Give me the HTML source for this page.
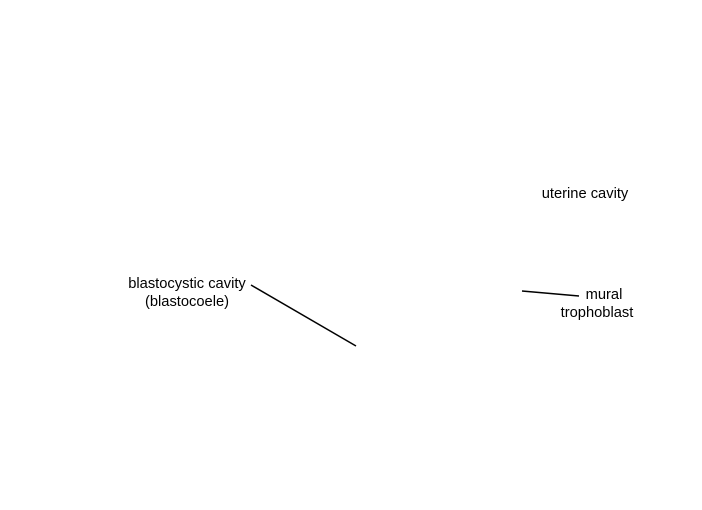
<!DOCTYPE html>
<html><head><style>
body{margin:0;width:702px;height:510px;background:#fff;position:relative;overflow:hidden;font-family:"Liberation Sans",Arial,sans-serif;font-size:14.7px;color:#000}
.t{position:absolute;text-align:center;line-height:18px;white-space:nowrap}
</style></head><body>
<div class="t" style="left:117px;top:275px;width:140px">blastocystic cavity<br>(blastocoele)</div>
<div class="t" style="left:535px;top:185px;width:100px">uterine cavity</div>
<div class="t" style="left:554px;top:286px;width:100px">mural</div>
<div class="t" style="left:547px;top:304px;width:100px">trophoblast</div>
<svg width="702" height="510" style="position:absolute;left:0;top:0">
<line x1="251" y1="285" x2="356" y2="346" stroke="#000" stroke-width="1.5"/>
<line x1="522" y1="291" x2="579" y2="296" stroke="#000" stroke-width="1.5"/>
</svg>
</body></html>
